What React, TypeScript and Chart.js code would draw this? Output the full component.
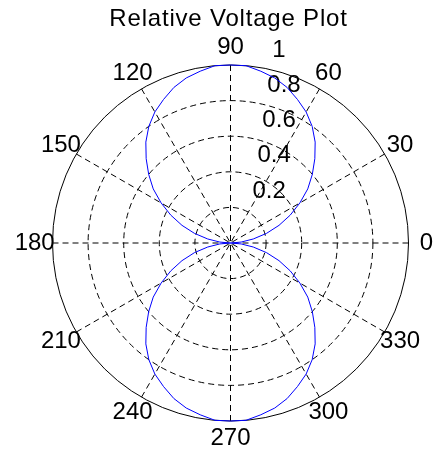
import { useEffect, useRef } from "react";
import { Chart, registerables } from "chart.js";

Chart.register(...registerables);

const TITLE = "Relative Voltage Plot";

// Pattern samples: angle in degrees and relative voltage at that angle
const ANGLES_DEG = [
  0, 5, 10, 15, 20, 25, 30, 35, 40, 45, 50, 55, 60, 65, 70, 75, 80, 85, 90,
  95, 100, 105, 110, 115, 120, 125, 130, 135, 140, 145, 150, 155, 160, 165, 170, 175, 180,
  185, 190, 195, 200, 205, 210, 215, 220, 225, 230, 235, 240, 245, 250, 255, 260, 265, 270,
  275, 280, 285, 290, 295, 300, 305, 310, 315, 320, 325, 330, 335, 340, 345, 350, 355, 360,
];
const VOLTAGE = [
  0, 0.06, 0.13, 0.21, 0.29, 0.37, 0.45, 0.53, 0.6, 0.67, 0.74, 0.8, 0.85, 0.89, 0.93, 0.96, 0.98, 1.0, 1.0,
  1.0, 0.98, 0.96, 0.93, 0.89, 0.85, 0.8, 0.74, 0.67, 0.6, 0.53, 0.45, 0.37, 0.29, 0.21, 0.13, 0.06, 0,
  0.06, 0.13, 0.21, 0.29, 0.37, 0.45, 0.53, 0.6, 0.67, 0.74, 0.8, 0.85, 0.89, 0.93, 0.96, 0.98, 1.0, 1.0,
  1.0, 0.98, 0.96, 0.93, 0.89, 0.85, 0.8, 0.74, 0.67, 0.6, 0.53, 0.45, 0.37, 0.29, 0.21, 0.13, 0.06, 0,
];

const ANGLE_TICKS = [0, 30, 60, 90, 120, 150, 180, 210, 240, 270, 300, 330];
const ANGLE_TICK_LABELS = ["0", "30", "60", "90", "120", "150", "180", "210", "240", "270", "300", "330"];
const RADIAL_TICKS = [0.2, 0.4, 0.6, 0.8, 1];
const RADIAL_TICK_LABELS = ["0.2", "0.4", "0.6", "0.8", "1"];
const R_MAX = 1;

const FONT_FAMILY = '"Liberation Sans", Arial, Helvetica, sans-serif';
const DEG = Math.PI / 180;

const polarFrame = {
  id: "polarFrame",
  beforeDatasetsDraw(chart: any) {
    const { ctx } = chart;
    const xs = chart.scales.x;
    const ys = chart.scales.y;
    const px = (v: number) => xs.getPixelForValue(v);
    const py = (v: number) => ys.getPixelForValue(v);
    const cx = px(0);
    const cy = py(0);

    ctx.save();
    ctx.strokeStyle = "#000000";
    ctx.lineWidth = 1;

    // outer boundary circle
    ctx.beginPath();
    ctx.ellipse(cx, cy, px(R_MAX) - cx, cy - py(R_MAX), 0, 0, 2 * Math.PI);
    ctx.stroke();

    // dashed range rings
    ctx.setLineDash([6, 4]);
    RADIAL_TICKS.filter((r) => r < R_MAX).forEach((r) => {
      ctx.beginPath();
      ctx.ellipse(cx, cy, px(r) - cx, cy - py(r), 0, 0, 2 * Math.PI);
      ctx.stroke();
    });

    // dashed spokes through the centre
    ANGLE_TICKS.filter((a) => a > 0 && a <= 180).forEach((a) => {
      const c = Math.cos(a * DEG) * R_MAX;
      const s = Math.sin(a * DEG) * R_MAX;
      ctx.beginPath();
      ctx.moveTo(px(-c), py(-s));
      ctx.lineTo(px(c), py(s));
      ctx.stroke();
    });
    ctx.setLineDash([]);

    ctx.fillStyle = "#000000";
    ctx.font = `24px ${FONT_FAMILY}`;

    // angle labels just outside the boundary
    ctx.textAlign = "center";
    ctx.textBaseline = "middle";
    ANGLE_TICKS.forEach((a, i) => {
      const r = 1.1 * R_MAX;
      ctx.fillText(ANGLE_TICK_LABELS[i], px(r * Math.cos(a * DEG)), py(r * Math.sin(a * DEG)));
    });

    // range labels along the 82 degree ray
    ctx.textAlign = "left";
    ctx.textBaseline = "alphabetic";
    RADIAL_TICKS.forEach((r, i) => {
      const x = px(r * Math.cos(82 * DEG)) + 17;
      const y = py(r * Math.sin(82 * DEG)) - 10;
      ctx.fillText(RADIAL_TICK_LABELS[i], x, y);
    });

    // title
    ctx.textAlign = "center";
    (ctx as any).letterSpacing = "0.8px";
    ctx.fillText(TITLE, cx - 2, 26);
    ctx.restore();
  },
};

export default function App() {
  const canvasRef = useRef<HTMLCanvasElement | null>(null);

  useEffect(() => {
    const canvas = canvasRef.current;
    if (!canvas) return;

    const points = ANGLES_DEG.map((a, i) => ({
      x: VOLTAGE[i] * Math.cos(a * DEG),
      y: VOLTAGE[i] * Math.sin(a * DEG),
    }));

    const chart = new Chart(canvas, {
      type: "scatter",
      data: {
        datasets: [
          {
            data: points,
            showLine: true,
            borderColor: "#0000ff",
            backgroundColor: "#0000ff",
            borderWidth: 1,
            pointRadius: 0,
            tension: 0,
            clip: false,
          } as any,
        ],
      },
      options: {
        animation: false,
        responsive: false,
        devicePixelRatio: 1,
        layout: { padding: { left: 52.5, right: 26.5, top: 65, bottom: 30 } },
        scales: {
          x: { type: "linear", min: -R_MAX, max: R_MAX, display: false },
          y: { type: "linear", min: -R_MAX, max: R_MAX, display: false },
        },
        plugins: {
          legend: { display: false },
          tooltip: { enabled: false },
          title: { display: false },
        },
      },
      plugins: [polarFrame],
    });

    return () => chart.destroy();
  }, []);

  return (
    <div style={{ position: "fixed", left: 0, top: 0, width: 435, height: 451, background: "#ffffff" }}>
      <canvas ref={canvasRef} width={435} height={451} style={{ width: 435, height: 451, display: "block" }} />
    </div>
  );
}
